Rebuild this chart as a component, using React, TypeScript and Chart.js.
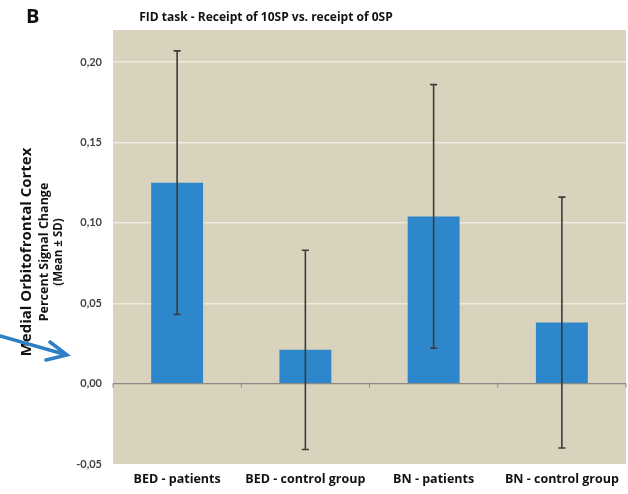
import React, { useEffect, useRef } from "react";
import { Chart, registerables } from "chart.js";

Chart.register(...registerables);

const categories = ["BED - patients", "BED - control group", "BN - patients", "BN - control group"];
const means = [0.125, 0.021, 0.104, 0.038];
const sds = [0.082, 0.062, 0.082, 0.078];
const yTicks = [-0.05, 0, 0.05, 0.1, 0.15, 0.2];
const titleText = "FID task - Receipt of 10SP vs. receipt of 0SP";
const panelLabel = "B";
const yTitleLines = ["Medial Orbitofrontal Cortex", "Percent Signal Change", "(Mean ± SD)"];

const FONT = "Lato, 'Open Sans', sans-serif";
const FONT2 = "'Open Sans', Lato, sans-serif";

const decorPlugin = {
  id: "decor",
  beforeDraw(chart: any) {
    const { ctx, chartArea } = chart;
    ctx.save();
    ctx.fillStyle = "#d9d3bd";
    ctx.fillRect(chartArea.left, chartArea.top, chartArea.right - chartArea.left, chartArea.bottom - chartArea.top);
    ctx.restore();
  },
  afterDatasetsDraw(chart: any) {
    const { ctx, chartArea } = chart;
    const yScale = chart.scales.y;
    const meta = chart.getDatasetMeta(0);
    ctx.save();
    const y0 = yScale.getPixelForValue(0);
    const n = categories.length;
    ctx.strokeStyle = "#8a8a86";
    ctx.lineWidth = 1;
    for (let i = 0; i <= n; i++) {
      const x = chartArea.left + ((chartArea.right - chartArea.left) * i) / n;
      ctx.beginPath();
      ctx.moveTo(x, y0);
      ctx.lineTo(x, y0 + 4);
      ctx.stroke();
    }
    ctx.strokeStyle = "#3a3a3a";
    ctx.lineWidth = 1.6;
    meta.data.forEach((bar: any, i: number) => {
      const x = bar.x;
      const yt = yScale.getPixelForValue(means[i] + sds[i]);
      const yb = yScale.getPixelForValue(means[i] - sds[i]);
      ctx.beginPath();
      ctx.moveTo(x, yt);
      ctx.lineTo(x, yb);
      ctx.moveTo(x - 3.5, yt);
      ctx.lineTo(x + 3.5, yt);
      ctx.moveTo(x - 3.5, yb);
      ctx.lineTo(x + 3.5, yb);
      ctx.stroke();
    });
    ctx.restore();
  },
  afterDraw(chart: any) {
    const { ctx } = chart;
    ctx.save();
    ctx.fillStyle = "#111";
    ctx.font = `bold 20px ${FONT2}`;
    ctx.textAlign = "left";
    ctx.textBaseline = "middle";
    ctx.fillText(panelLabel, 26, 17);
    ctx.font = `bold 12px ${FONT2}`;
    ctx.textAlign = "center";
    ctx.fillText(titleText, 266, 18);
    const cy = 252;
    const xs = [27, 44, 59];
    const fonts = [`bold 15px ${FONT2}`, `bold 12.5px ${FONT2}`, `bold 11.5px ${FONT2}`];
    yTitleLines.forEach((t, i) => {
      ctx.save();
      ctx.translate(xs[i], cy);
      ctx.rotate(-Math.PI / 2);
      ctx.font = fonts[i];
      ctx.textAlign = "center";
      ctx.textBaseline = "middle";
      ctx.fillStyle = "#111";
      ctx.fillText(t, 0, 0);
      ctx.restore();
    });
    ctx.strokeStyle = "#2d7fc6";
    ctx.lineWidth = 3.5;
    ctx.lineCap = "round";
    ctx.beginPath();
    ctx.moveTo(0, 336);
    ctx.lineTo(67, 355);
    ctx.moveTo(50, 342);
    ctx.lineTo(67, 355);
    ctx.lineTo(46, 360);
    ctx.stroke();
    ctx.restore();
  },
};

export default function App() {
  const ref = useRef<HTMLCanvasElement | null>(null);
  useEffect(() => {
    if (!ref.current) return;
    const chart = new Chart(ref.current, {
      type: "bar",
      data: {
        labels: categories,
        datasets: [
          {
            data: means,
            backgroundColor: "#2f87cb",
            borderWidth: 0,
            categoryPercentage: 1,
            barPercentage: 0.405,
          },
        ],
      },
      options: {
        responsive: false,
        maintainAspectRatio: false,
        animation: false,
        layout: { padding: { left: 0, top: 30, right: 2, bottom: 0 } },
        plugins: { legend: { display: false }, tooltip: { enabled: false }, title: { display: false } },
        scales: {
          x: {
            grid: { display: false, drawTicks: false },
            border: { display: false },
            ticks: {
              color: "#111",
              font: { family: FONT2, size: 12.5, weight: "bold" },
              padding: 8,
              maxRotation: 0,
            },
            afterFit: (s: any) => {
              s.height = 30;
            },
          },
          y: {
            min: -0.05,
            max: 0.22,
            afterBuildTicks: (s: any) => {
              s.ticks = yTicks.map((v) => ({ value: v }));
            },
            grid: {
              drawTicks: false,
              lineWidth: (c: any) => (c.tick && c.tick.value === 0 ? 1.3 : 1.5),
              color: (c: any) =>
                c.tick && Math.abs(c.tick.value) < 1e-9
                  ? "#8a8a86"
                  : c.tick && c.tick.value < -0.04
                  ? "rgba(0,0,0,0)"
                  : "#eeeadf",
            },
            border: { display: false },
            ticks: {
              color: "#444",
              font: { family: FONT, size: 11, weight: "bold" },
              padding: 11,
              callback: (v: any) => Number(v).toFixed(2).replace(".", ","),
            },
            afterFit: (s: any) => {
              s.width = 113;
            },
          },
        },
      },
      plugins: [decorPlugin],
    });
    return () => chart.destroy();
  }, []);
  return (
    <div style={{ position: "absolute", left: 0, top: 0, width: 628, height: 494, background: "#fff" }}>
      <canvas ref={ref} width={628} height={494} style={{ display: "block" }} />
    </div>
  );
}
